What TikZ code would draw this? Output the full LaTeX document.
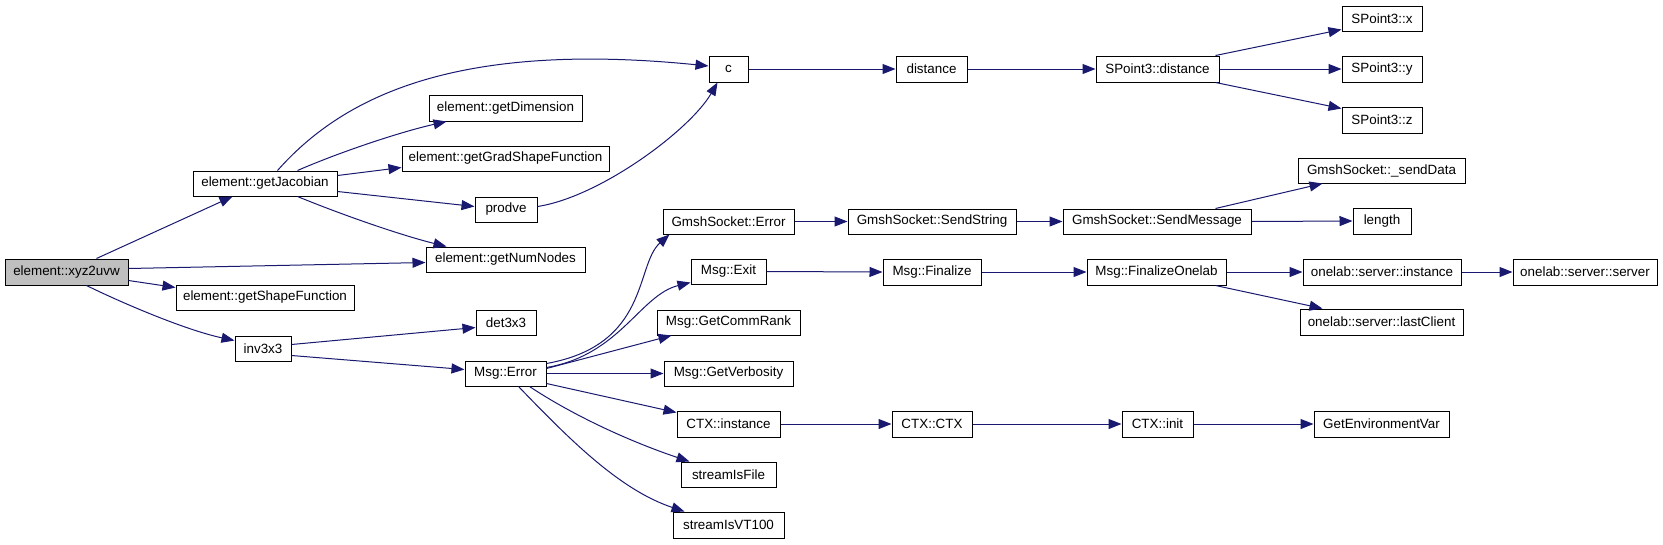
\documentclass[tikz,border=0pt]{standalone}
\usepackage{fontspec}
\setmainfont{Liberation Sans}
\usetikzlibrary{arrows.meta,calc}
\definecolor{edgeblue}{HTML}{191970}
\definecolor{rootgray}{HTML}{BFBFBF}
\tikzset{
  box/.style={draw=black, line width=1pt, fill=white, inner sep=0pt,
    font=\fontsize{13.4}{16}\selectfont},
  rootbox/.style={fill=rootgray},
  edge/.style={draw=edgeblue, line width=1pt,
    -{Triangle[length=13pt,width=10pt]}, edgeblue},
}
\newcommand{\bxt}[7][]{\node[box,#1,minimum width={(#5-#3)*1pt},minimum height={(#6-#4)*1pt}] (#2) at ({(#3+#5)/2},{(#4+#6)/2}) {#7};}
\begin{document}
\begin{tikzpicture}[x=1pt,y=-1pt]
\useasboundingbox (0,0) rectangle (1663,544);
\fill[white] (0,0) rectangle (1663,544);
% nodes
\bxt[rootbox]{root}{5}{259}{128}{285}{element::xyz2uvw}
\bxt{jac}{193}{171}{337}{196}{element::getJacobian}
\bxt{shape}{176}{285}{354}{310}{element::getShapeFunction}
\bxt{inv}{235}{336}{291}{361}{inv3x3}
\bxt{dim}{429}{95}{582}{121}{element::getDimension}
\bxt{grad}{402}{146}{609}{171}{element::getGradShapeFunction}
\bxt{prodve}{475}{197}{537}{222}{prodve}
\bxt{numnodes}{426}{247}{585}{272}{element::getNumNodes}
\bxt{det}{476}{310}{536}{335}{det3x3}
\bxt{msgerr}{465}{361}{546}{386}{Msg::Error}
\bxt{c}{709}{56}{748}{82}{c}
\bxt{gserr}{663}{209}{794}{234}{GmshSocket::Error}
\bxt{exit}{691}{259}{766}{284}{Msg::Exit}
\bxt{commrank}{657}{310}{800}{335}{Msg::GetCommRank}
\bxt{verb}{664}{361}{793}{386}{Msg::GetVerbosity}
\bxt{ctxinst}{677}{411}{780}{437}{CTX::instance}
\bxt{sif}{681}{462}{776}{487}{streamIsFile}
\bxt{svt}{673}{512}{784}{538}{streamIsVT100}
\bxt{dist}{896}{56}{967}{82}{distance}
\bxt{sendstr}{848}{209}{1016}{234}{GmshSocket::SendString}
\bxt{fin}{883}{259}{981}{285}{Msg::Finalize}
\bxt{ctxctx}{892}{411}{972}{437}{CTX::CTX}
\bxt{spdist}{1096}{56}{1219}{82}{SPoint3::distance}
\bxt{sendmsg}{1063}{209}{1251}{234}{GmshSocket::SendMessage}
\bxt{finone}{1087}{259}{1226}{285}{Msg::FinalizeOnelab}
\bxt{ctxinit}{1122}{411}{1193}{437}{CTX::init}
\bxt{spx}{1342}{6}{1422}{31}{SPoint3::x}
\bxt{spy}{1342}{56}{1422}{82}{SPoint3::y}
\bxt{spz}{1342}{107}{1422}{133}{SPoint3::z}
\bxt{senddata}{1298}{158}{1465}{183}{GmshSocket::\_sendData}
\bxt{length}{1353}{208}{1411}{234}{length}
\bxt{osi}{1303}{259}{1461}{285}{onelab::server::instance}
\bxt{olc}{1300}{309}{1463}{335}{onelab::server::lastClient}
\bxt{gev}{1314}{411}{1449}{437}{GetEnvironmentVar}
\bxt{oss}{1513}{259}{1657}{285}{onelab::server::server}
% edges from root
\draw[edge] ($(root.north west)+(92,0)$) -- ($(jac.south west)+(40,0)$);
\draw[edge] ($(root.north east)+(0,10)$) -- ($(numnodes.south west)+(0,-10)$);
\draw[edge] ($(root.south east)+(0,-5)$) -- ($(shape.north west)+(0,3)$);
\draw[edge] ($(root.south west)+(82,0)$) .. controls (120,302) and (185,330) .. ($(inv.north west)+(0,5)$);
% edges from getJacobian
\draw[edge] ($(jac.north west)+(85,0)$) .. controls (340,100) and (450,40) .. ($(c.west)+(0,-3)$);
\draw[edge] ($(jac.north west)+(105,0)$) .. controls (340,152) and (400,132) .. ($(dim.south west)+(18,0)$);
\draw[edge] ($(jac.north east)+(0,5)$) -- ($(grad.south west)+(0,-4)$);
\draw[edge] ($(jac.south east)+(0,-5)$) -- ($(prodve.west)+(0,-3)$);
\draw[edge] ($(jac.south west)+(105,0)$) .. controls (340,214) and (400,235) .. ($(numnodes.north west)+(21,0)$);
% prodve
\draw[edge] ($(prodve.east)+(0,-3)$) .. controls (600,197) and (690,130) .. ($(c.south west)+(9,0)$);
% inv3x3
\draw[edge] ($(inv.north east)+(0,9)$) -- ($(det.south west)+(0,-8)$);
\draw[edge] ($(inv.south east)+(0,-6)$) -- ($(msgerr.west)+(0,-4)$);
% Msg::Error
\draw[edge] ($(msgerr.north east)+(0,3)$) .. controls (650,345) and (635,265) .. ($(gserr.south west)+(7,0)$);
\draw[edge] ($(msgerr.north east)+(0,7)$) .. controls (620,355) and (640,295) .. ($(exit.south west)+(0,-2)$);
\draw[edge] ($(msgerr.east)+(0,-5)$) -- ($(commrank.south west)+(15,0)$);
\draw[edge] (msgerr.east) -- (verb.west);
\draw[edge] ($(msgerr.south east)+(0,-3)$) -- ($(ctxinst.north west)+(0,2)$);
\draw[edge] ($(msgerr.south west)+(65,0)$) .. controls (580,420) and (640,445) .. ($(sif.north west)+(9,0)$);
\draw[edge] ($(msgerr.south west)+(54,0)$) .. controls (570,440) and (620,490) .. ($(svt.north west)+(12,0)$);
% chains
\draw[edge] (c.east) -- (dist.west);
\draw[edge] (dist.east) -- (spdist.west);
\draw[edge] ($(spdist.north east)+(-4,0)$) -- ($(spx.south west)+(0,-2)$);
\draw[edge] (spdist.east) -- (spy.west);
\draw[edge] ($(spdist.south east)+(-4,0)$) -- ($(spz.north west)+(0,2)$);
\draw[edge] (gserr.east) -- (sendstr.west);
\draw[edge] (sendstr.east) -- (sendmsg.west);
\draw[edge] ($(sendmsg.north east)+(-36,0)$) -- ($(senddata.south west)+(25,0)$);
\draw[edge] (sendmsg.east) -- (length.west);
\draw[edge] (exit.east) -- (fin.west);
\draw[edge] (fin.east) -- (finone.west);
\draw[edge] (finone.east) -- (osi.west);
\draw[edge] ($(finone.south east)+(-11,0)$) -- ($(olc.north west)+(23,0)$);
\draw[edge] (osi.east) -- (oss.west);
\draw[edge] (ctxinst.east) -- (ctxctx.west);
\draw[edge] (ctxctx.east) -- (ctxinit.west);
\draw[edge] (ctxinit.east) -- (gev.west);
\end{tikzpicture}
\end{document}
